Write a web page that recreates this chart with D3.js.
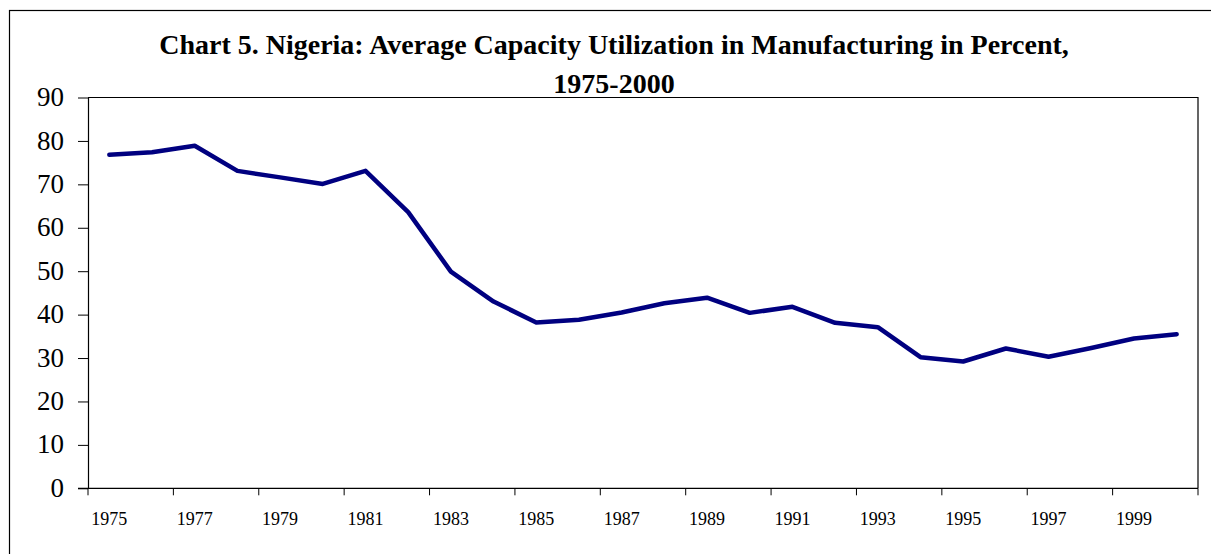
<!DOCTYPE html>
<html><head><meta charset="utf-8">
<script src="https://cdn.jsdelivr.net/npm/d3@7"></script>
<style>body{margin:0;background:#fff}svg{display:block}</style>
</head><body>
<script>
const years = [1975,1976,1977,1978,1979,1980,1981,1982,1983,1984,1985,1986,1987,1988,1989,1990,1991,1992,1993,1994,1995,1996,1997,1998,1999,2000];
const utilization = [76.8,77.4,78.9,73.1,71.6,70.1,73.1,63.6,49.9,43.0,38.2,38.8,40.5,42.6,43.9,40.4,41.8,38.1,37.1,30.2,29.2,32.2,30.3,32.3,34.5,35.5];
const yTicks = [0,10,20,30,40,50,60,70,80,90];
const xLabelYears = [1975,1977,1979,1981,1983,1985,1987,1989,1991,1993,1995,1997,1999];
const titleLines = ["Chart 5. Nigeria: Average Capacity Utilization in Manufacturing in Percent,","1975-2000"];

const W=1211,H=554;
const svg=d3.select("body").append("svg").attr("width",W).attr("height",H);
const L=88,R=1198,T=97.5,B=488.3;

svg.append("rect").attr("x",9.5).attr("y",10.5).attr("width",W+20).attr("height",H+20)
  .attr("fill","none").attr("stroke","#000").attr("stroke-width",1.2);

svg.append("text").attr("x",614).attr("y",54).attr("text-anchor","middle")
  .attr("font-family","Liberation Serif").attr("font-weight","bold").attr("font-size",28)
  .text(titleLines[0]);
svg.append("text").attr("x",614).attr("y",93).attr("text-anchor","middle")
  .attr("font-family","Liberation Serif").attr("font-weight","bold").attr("font-size",28)
  .text(titleLines[1]);

const x=d3.scaleBand().domain(years).range([L,R]).padding(0);
const y=d3.scaleLinear().domain([0,90]).range([B,T]);

// plot border top/right
svg.append("path").attr("d",`M${L},${T}H${R}V${B}`).attr("fill","none").attr("stroke","#000").attr("stroke-width",1.2);

// y axis
const ya=svg.append("g").attr("transform",`translate(${L},0)`)
  .call(d3.axisLeft(y).tickValues(yTicks).tickSize(10).tickSizeOuter(0).tickPadding(14));
ya.select(".domain").attr("stroke","#000").attr("stroke-width",1.2);
ya.selectAll(".tick line").attr("stroke","#000").attr("stroke-width",1);
ya.selectAll(".tick text").attr("font-family","Liberation Serif").attr("font-size",27).attr("fill","#000").attr("dy","0.3em");

// x axis
const xa=svg.append("g").attr("transform",`translate(0,${B})`);
xa.append("line").attr("x1",L-10).attr("x2",R).attr("stroke","#000").attr("stroke-width",1.2);
const tickIdx=d3.range(0,years.length+1,2);
xa.selectAll("line.t").data(tickIdx).join("line").attr("class","t")
  .attr("x1",i=>i<years.length?x(years[i]):x(years[years.length-1])+x.bandwidth())
  .attr("x2",i=>i<years.length?x(years[i]):x(years[years.length-1])+x.bandwidth())
  .attr("y1",0).attr("y2",7).attr("stroke","#000").attr("stroke-width",1);
xa.selectAll("text").data(xLabelYears).join("text")
  .attr("x",d=>x(d)+x.bandwidth()/2).attr("y",37).attr("text-anchor","middle")
  .attr("font-family","Liberation Serif").attr("font-size",18).attr("fill","#000")
  .text(d=>d);

const line=d3.line().x((d,i)=>x(years[i])+x.bandwidth()/2).y(d=>y(d));
svg.append("path").datum(utilization).attr("d",line).attr("fill","none")
  .attr("stroke","#000080").attr("stroke-width",4.5).attr("stroke-linejoin","round").attr("stroke-linecap","round");
</script>
</body></html>
